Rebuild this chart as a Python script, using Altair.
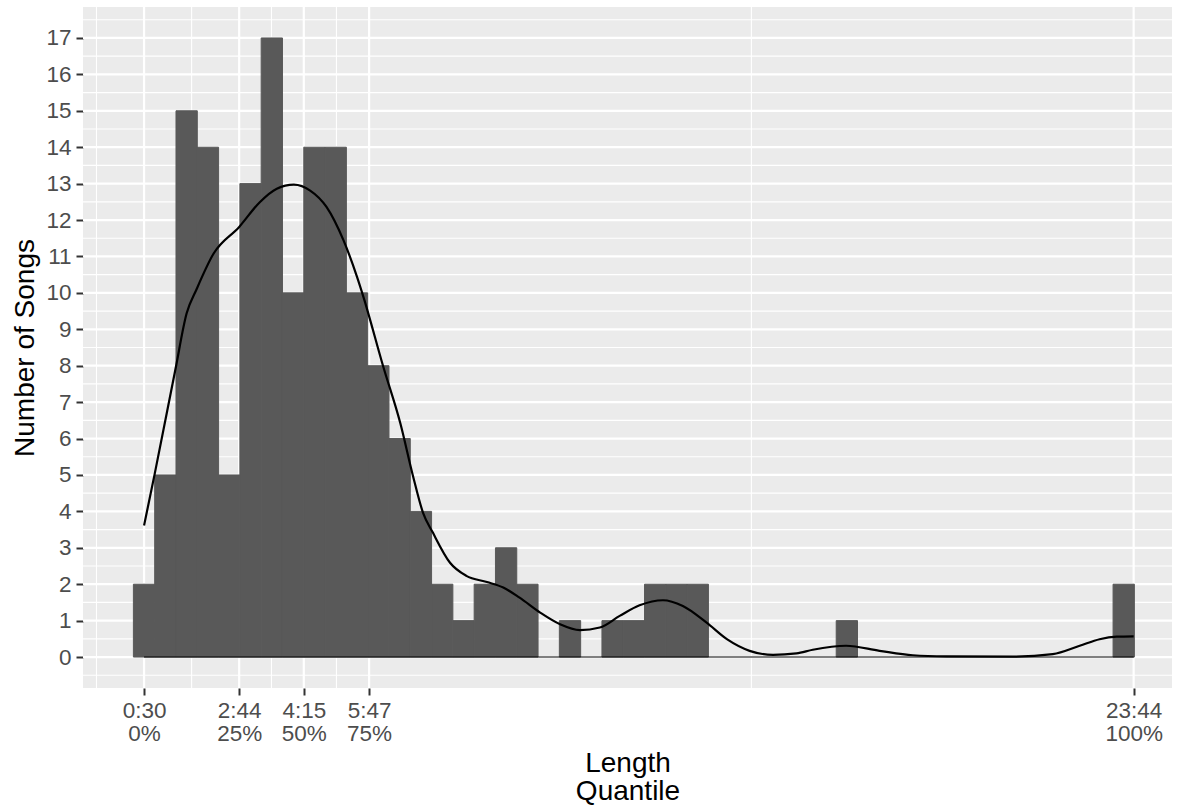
import altair as alt
import pandas as pd

# Histogram: 30-second bins, first bin spans 0:15-0:45
BIN_WIDTH = 30
BIN_START = 15
counts = [2, 5, 15, 14, 5, 13, 17, 10, 14, 14, 10, 8, 6, 4, 2, 1, 2, 3, 2, 0,
          1, 0, 1, 1, 2, 2, 2, 0, 0, 0, 0, 0, 0, 1, 0, 0, 0, 0, 0, 0,
          0, 0, 0, 0, 0, 0, 2]

# Smoothed density, scaled to song counts
dens_sec = [30, 45, 74, 90, 104, 128, 164, 193, 217, 241, 264, 287, 311, 330,
            339, 367, 391, 409, 423, 437, 461, 484, 513, 536, 559, 588, 616,
            644, 672, 700, 728, 761, 789, 822, 851, 883, 916, 949, 972, 1019,
            1066, 1113, 1160, 1254, 1310, 1348, 1376, 1400, 1424]
dens_count = [3.61, 5.03, 7.88, 9.44, 10.1, 11.08, 11.81, 12.49, 12.86, 12.97,
              12.81, 12.36, 11.44, 10.44, 9.89, 7.97, 6.42, 4.96, 3.96, 3.41,
              2.59, 2.23, 2.06, 1.91, 1.63, 1.22, 0.90, 0.74, 0.81, 1.13, 1.42,
              1.56, 1.40, 0.95, 0.49, 0.17, 0.06, 0.10, 0.20, 0.31, 0.17, 0.05,
              0.02, 0.01, 0.08, 0.31, 0.49, 0.56, 0.57]

# Quantile breaks on the x axis (seconds)
q_sec = [30, 164, 255, 347, 1424]
q_time = ["0:30", "2:44", "4:15", "5:47", "23:44"]
q_pct = ["0%", "25%", "50%", "75%", "100%"]
minor_x = [-37, 97, 209.5, 301, 885.5]

y_major = list(range(0, 18))
y_minor = [v + 0.5 for v in range(-1, 18)]

X_DOMAIN = [-56, 1478]
Y_DOMAIN = [-0.85, 17.85]

bars = pd.DataFrame({
    "start": [BIN_START + BIN_WIDTH * i for i in range(len(counts))],
    "end": [BIN_START + BIN_WIDTH * (i + 1) for i in range(len(counts))],
    "count": counts,
})
bars = bars[bars["count"] > 0]
dens = pd.DataFrame({"sec": dens_sec, "count": dens_count})

xs = alt.Scale(domain=X_DOMAIN, nice=False, zero=False)
ys = alt.Scale(domain=Y_DOMAIN, nice=False, zero=False)

label_expr = ""
for s, t, p in zip(q_sec, q_time, q_pct):
    label_expr += f"datum.value == {s} ? ['{t}', '{p}'] : "
label_expr += "''"

x_axis = alt.Axis(
    values=q_sec, labelExpr=label_expr, grid=False, domain=False,
    tickColor="#333333", tickWidth=2, tickSize=7,
    labelColor="#4D4D4D", labelFontSize=22.5, labelLineHeight=23,
    labelPadding=4, labelAlign="center", labelBaseline="top",
    labelOverlap=False, labelFlush=False,
    title=["Length", "Quantile"], titleFontSize=28,
    titleFontWeight="normal", titleColor="#000000",
    titleLineHeight=28, titlePadding=5,
)
y_axis = alt.Axis(
    values=y_major, grid=False, domain=False,
    tickColor="#333333", tickWidth=2, tickSize=7,
    labelColor="#4D4D4D", labelFontSize=22.5, labelPadding=5,
    title="Number of Songs", titleFontSize=28,
    titleFontWeight="normal", titleColor="#000000", titlePadding=6,
)

grid_color = "#FFFFFF"


def hgrid(vals, w):
    return alt.Chart(pd.DataFrame({"v": vals})).mark_rule(
        color=grid_color, strokeWidth=w
    ).encode(y=alt.Y("v:Q", scale=ys, axis=y_axis))


def vgrid(vals, w):
    return alt.Chart(pd.DataFrame({"v": vals})).mark_rule(
        color=grid_color, strokeWidth=w
    ).encode(x=alt.X("v:Q", scale=xs, axis=x_axis))


hist = alt.Chart(bars).mark_rect(
    color="#595959", stroke="#595959", strokeWidth=1
).encode(
    x=alt.X("start:Q", scale=xs, axis=x_axis),
    x2="end:Q",
    y=alt.Y("count:Q", scale=ys, axis=y_axis),
    y2=alt.Y2(datum=0),
)

baseline = alt.Chart(
    pd.DataFrame({"a": [dens_sec[0]], "b": [dens_sec[-1]], "y": [0]})
).mark_rule(color="#000000", strokeWidth=1.1).encode(
    x=alt.X("a:Q", scale=xs, axis=x_axis), x2="b:Q",
    y=alt.Y("y:Q", scale=ys, axis=y_axis),
)

curve = alt.Chart(dens).mark_line(
    color="#000000", strokeWidth=2.2, interpolate="monotone"
).encode(
    x=alt.X("sec:Q", scale=xs, axis=x_axis),
    y=alt.Y("count:Q", scale=ys, axis=y_axis),
)

chart = alt.layer(
    hgrid(y_minor, 1.1),
    vgrid(minor_x, 1.1),
    hgrid(y_major, 2.2),
    vgrid(q_sec, 2.2),
    hist,
    baseline,
    curve,
).properties(
    width=1089,
    height=681,
    autosize=alt.AutoSizeParams(type="none"),
    padding={"left": 83, "top": 7, "right": 7, "bottom": 122},
    background="#FFFFFF",
).configure(
    font="Liberation Sans",
).configure_view(
    fill="#EBEBEB", stroke=None,
)

chart.save("out.html", embed_options={"renderer": "svg", "actions": False})
